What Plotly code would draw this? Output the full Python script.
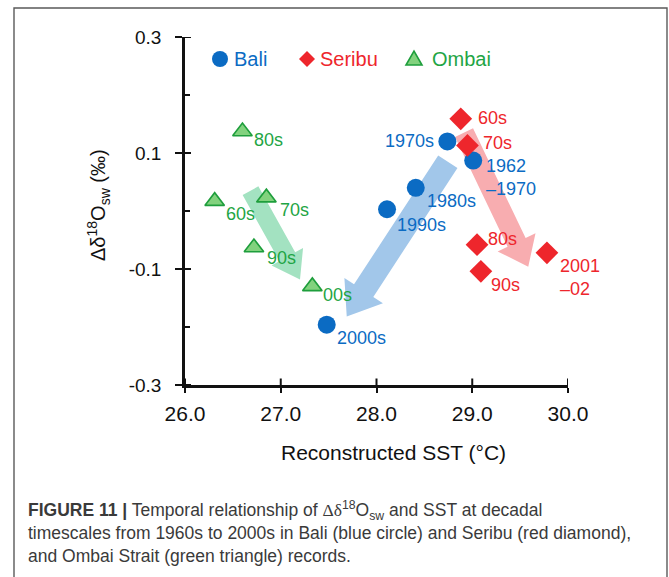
import math
import plotly.graph_objects as go

# Decadal reconstructed SST (°C) and Δδ18Osw (‰)
bali_labels = ["1962<br>–1970", "1970s", "1980s", "1990s", "2000s"]
bali_sst = [29.01, 28.74, 28.41, 28.11, 27.48]
bali_d18o = [0.087, 0.120, 0.040, 0.003, -0.196]

seribu_labels = ["60s", "70s", "80s", "90s", "2001<br>–02"]
seribu_sst = [28.88, 28.95, 29.05, 29.09, 29.78]
seribu_d18o = [0.159, 0.113, -0.058, -0.104, -0.072]

ombai_labels = ["60s", "70s", "80s", "90s", "00s"]
ombai_sst = [26.31, 26.85, 26.60, 26.72, 27.33]
ombai_d18o = [0.017, 0.023, 0.137, -0.063, -0.130]

x_ticks = [26.0, 27.0, 28.0, 29.0, 30.0]
x_ticktext = ["26.0", "27.0", "28.0", "29.0", "30.0"]
y_ticks = [-0.3, -0.1, 0.1, 0.3]
y_ticktext = ["-0.3", "-0.1", "0.1", "0.3"]
y_minor = [-0.2, 0.0, 0.2]

# Trend arrows: (start SST, start Δδ18O, end SST, end Δδ18O)
ombai_trend = (26.684, 0.035, 27.201, -0.118)
bali_trend = (28.745, 0.085, 27.689, -0.182)
seribu_trend = (28.914, 0.135, 29.585, -0.096)

# ---- styling ----
BLUE = "#0b6bc3"
RED = "#ee262c"
GREEN_TXT = "#1fa545"
GREEN_FILL = "#82d27e"
GREEN_EDGE = "#1e9e3c"
AXIS = "#111111"
FONT = "Liberation Sans, Arial, sans-serif"

X_RANGE = [26.0, 30.0]
Y_RANGE = [-0.3, 0.3]
W, H = 669, 577
M_L, M_R, M_T, M_B = 185, 101, 37, 192
PW = W - M_L - M_R
PH = H - M_T - M_B
SX = PW / (X_RANGE[1] - X_RANGE[0])   # px per °C
SY = PH / (Y_RANGE[1] - Y_RANGE[0])   # px per ‰


def px_x(px):
    """Page pixel column -> paper x."""
    return (px - M_L) / PW


def px_y(py):
    """Page pixel row -> paper y."""
    return (H - M_B - py) / PH


# label placement in px: (dx, dy-down, anchor)
bali_off = [(11, 17, "left"), (-11, 0, "right"), (9, 13.5, "left"), (8, 15.5, "left"), (8, 13.5, "left")]
seribu_off = [(15, -0.5, "left"), (14, -2.5, "left"), (9, -6, "left"), (8.5, 13.5, "left"), (11, 24.5, "left")]
ombai_off = [(9, 12.5, "left"), (12, 12, "left"), (10, 8.5, "left"), (11, 10.5, "left"), (9, 9, "left")]


def arrow_path(trend, shaft, head, head_len):
    """Block arrow polygon in data units, sized in screen pixels."""
    x0, y0, x1, y1 = trend
    ax, ay = x0 * SX, y0 * SY
    bx, by = x1 * SX, y1 * SY
    L = math.hypot(bx - ax, by - ay)
    ux, uy = (bx - ax) / L, (by - ay) / L
    nx, ny = -uy, ux
    cx, cy = bx - ux * head_len, by - uy * head_len
    pts = [
        (ax + nx * shaft / 2, ay + ny * shaft / 2),
        (cx + nx * shaft / 2, cy + ny * shaft / 2),
        (cx + nx * head / 2, cy + ny * head / 2),
        (bx, by),
        (cx - nx * head / 2, cy - ny * head / 2),
        (cx - nx * shaft / 2, cy - ny * shaft / 2),
        (ax - nx * shaft / 2, ay - ny * shaft / 2),
    ]
    return "M " + " L ".join(f"{px / SX:.5f},{py / SY:.5f}" for px, py in pts) + " Z"


fig = go.Figure()

fig.add_trace(go.Scatter(
    x=bali_sst, y=bali_d18o, mode="markers", name="Bali",
    marker=dict(symbol="circle", size=18, color=BLUE, line=dict(width=0)),
))
fig.add_trace(go.Scatter(
    x=seribu_sst, y=seribu_d18o, mode="markers", name="Seribu",
    marker=dict(symbol="diamond", size=17.5, color=RED, line=dict(width=0)),
))
fig.add_trace(go.Scatter(
    x=ombai_sst, y=ombai_d18o, mode="markers", name="Ombai",
    marker=dict(symbol="triangle-up", size=17, color=GREEN_FILL,
                line=dict(width=1.6, color=GREEN_EDGE)),
))

shapes = [
    dict(type="path", path=arrow_path(ombai_trend, 18, 36, 26), xref="x", yref="y",
         fillcolor="#a3e2c1", line=dict(width=0), layer="below"),
    dict(type="path", path=arrow_path(bali_trend, 23, 46, 31), xref="x", yref="y",
         fillcolor="#a2c7ea", line=dict(width=0), layer="below"),
    dict(type="path", path=arrow_path(seribu_trend, 20, 42, 27), xref="x", yref="y",
         fillcolor="#f8adb0", line=dict(width=0), layer="below"),
    # figure frame
    dict(type="rect", xref="paper", yref="paper",
         x0=px_x(14), x1=px_x(667), y0=-1.2, y1=px_y(8),
         line=dict(color="#5a5a5a", width=1.4), fillcolor="rgba(0,0,0,0)"),
]

# inner halves of the crossing major ticks, and inner minor ticks
for v in y_ticks:
    shapes.append(dict(type="line", xref="paper", yref="y", x0=0, x1=6 / PW, y0=v, y1=v,
                       line=dict(color=AXIS, width=2)))
for v in y_minor:
    shapes.append(dict(type="line", xref="paper", yref="y", x0=0, x1=5 / PW, y0=v, y1=v,
                       line=dict(color=AXIS, width=2)))
for v in x_ticks:
    shapes.append(dict(type="line", xref="x", yref="paper", x0=v, x1=v, y0=0, y1=6.5 / PH,
                       line=dict(color=AXIS, width=2)))

# legend keys (pixel-sized, anchored in paper space)
LEG_Y = px_y(59)
shapes += [
    dict(type="circle", xref="paper", yref="paper", xsizemode="pixel", ysizemode="pixel",
         xanchor=px_x(220), yanchor=LEG_Y, x0=-8, x1=8, y0=-8, y1=8,
         fillcolor=BLUE, line=dict(width=0)),
    dict(type="path", xref="paper", yref="paper", xsizemode="pixel", ysizemode="pixel",
         xanchor=px_x(307), yanchor=LEG_Y, path="M -8,0 L 0,8 L 8,0 L 0,-8 Z",
         fillcolor=RED, line=dict(width=0)),
    dict(type="path", xref="paper", yref="paper", xsizemode="pixel", ysizemode="pixel",
         xanchor=px_x(414), yanchor=LEG_Y, path="M -8,-6 L 8,-6 L 0,8 Z",
         fillcolor=GREEN_FILL, line=dict(width=1.6, color=GREEN_EDGE)),
]

annotations = []
for txt, left, col in [("Bali", 232, BLUE), ("Seribu", 318, RED), ("Ombai", 430, GREEN_TXT)]:
    annotations.append(dict(
        x=px_x(left), y=LEG_Y, xref="paper", yref="paper", text=txt, showarrow=False,
        xanchor="left", yanchor="middle", font=dict(family=FONT, size=20, color=col),
    ))

for xs, ys, labs, offs, col in [
    (bali_sst, bali_d18o, bali_labels, bali_off, BLUE),
    (seribu_sst, seribu_d18o, seribu_labels, seribu_off, RED),
    (ombai_sst, ombai_d18o, ombai_labels, ombai_off, GREEN_TXT),
]:
    for x, y, t, (dx, dy, anc) in zip(xs, ys, labs, offs):
        annotations.append(dict(
            x=x, y=y, xref="x", yref="y", text=t, showarrow=False,
            xanchor=anc, yanchor="middle", align="left",
            xshift=dx, yshift=-dy,
            font=dict(family=FONT, size=18, color=col),
        ))

# axis titles
annotations.append(dict(
    x=px_x(98), y=px_y(205), xref="paper", yref="paper",
    text="Δδ<sup>18</sup>O<sub>sw</sub> (‰)", textangle=-90, showarrow=False,
    xanchor="center", yanchor="middle", font=dict(family=FONT, size=20, color=AXIS),
))
annotations.append(dict(
    x=px_x(393), y=px_y(452), xref="paper", yref="paper",
    text="Reconstructed SST (°C)", showarrow=False,
    xanchor="center", yanchor="middle", font=dict(family=FONT, size=21, color=AXIS),
))

# caption
caption = (
    "<b>FIGURE 11 |</b> Temporal relationship of "
    "<span style='font-family:Liberation Serif, Times New Roman, serif'>Δδ</span>"
    "<sup>18</sup>O<sub>sw</sub> and SST at decadal<br>"
    "timescales from 1960s to 2000s in Bali (blue circle) and Seribu (red diamond),<br>"
    "and Ombai Strait (green triangle) records."
)
annotations.append(dict(
    x=px_x(26), y=px_y(496), xref="paper", yref="paper",
    text=caption, showarrow=False, align="left",
    xanchor="left", yanchor="top", font=dict(family=FONT, size=17.5, color="#3a3a3a"),
))

axis_common = dict(showgrid=False, zeroline=False, showline=True,
                   linecolor=AXIS, linewidth=2.6, tickcolor=AXIS, tickwidth=2)

fig.update_layout(
    width=W, height=H,
    margin=dict(l=M_L, r=M_R, t=M_T, b=M_B, pad=0),
    paper_bgcolor="white", plot_bgcolor="white",
    font=dict(family=FONT, color=AXIS),
    showlegend=False,
    xaxis=dict(range=X_RANGE, tickmode="array", tickvals=x_ticks, ticktext=x_ticktext,
               ticks="outside", ticklen=5, tickfont=dict(size=21),
               ticklabelstandoff=3, **axis_common),
    yaxis=dict(range=Y_RANGE, tickmode="array", tickvals=y_ticks, ticktext=y_ticktext,
               ticks="outside", ticklen=7, tickfont=dict(size=19),
               ticklabelstandoff=10, **axis_common),
    shapes=shapes,
    annotations=annotations,
)

fig.write_html("out.html")
